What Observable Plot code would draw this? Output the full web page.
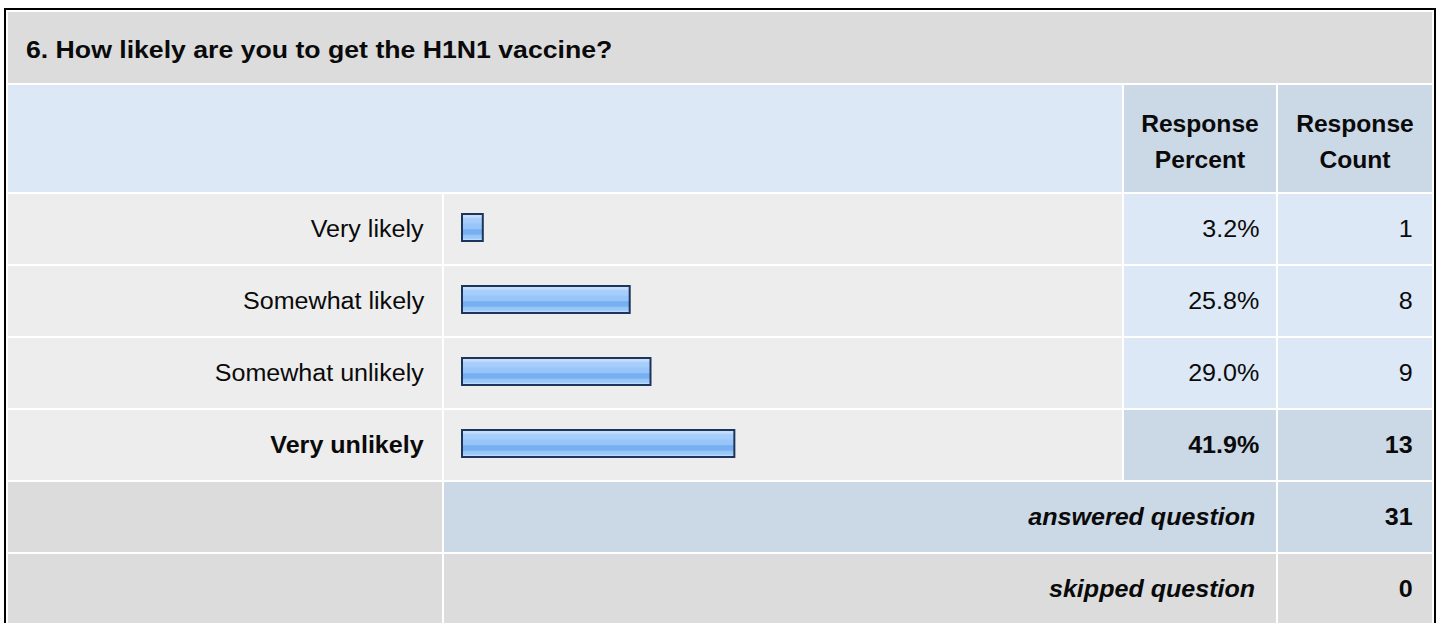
<!DOCTYPE html>
<html>
<head>
<meta charset="utf-8">
<script src="https://cdn.jsdelivr.net/npm/d3@7"></script>
<script src="https://cdn.jsdelivr.net/npm/@observablehq/plot@0.6"></script>
<style>
  html, body { margin: 0; padding: 0; background: #fff; width: 1440px; height: 623px; overflow: hidden; }
  #tbl {
    position: absolute; left: 4px; top: 8px;
    border: 2px solid #000; padding: 2px; background: #fff;
    display: grid;
    grid-template-columns: 434px 678px 152px 154px;
    grid-template-rows: 71px 107px 70px 70px 70px 70px 70px 70px;
    gap: 2px;
    font-family: "Liberation Sans", Arial, sans-serif;
    font-size: 23px; color: #0a0a0a;
  }
  .c { display: flex; align-items: center; box-sizing: border-box; white-space: nowrap; }
  .c span { display: inline-block; transform: scaleX(1.09); }
  .r { justify-content: flex-end; }
  .r span { transform-origin: right center; }
  .b { font-weight: bold; }
  .bi { font-weight: bold; font-style: italic; }
  .hd { justify-content: center; text-align: center; line-height: 36px; font-weight: bold; padding-top: 6px; }
  .hd span { transform-origin: center center; transform: scaleX(1.07); }
  .t { font-size: 24px; }
  .t span { transform-origin: left center; transform: scaleX(1.11); }
  #plotcell svg { display: block; }
</style>
</head>
<body>
<div id="tbl"></div>
<script>
// ---- data ----
const title = "6. How likely are you to get the H1N1 vaccine?";
const columnHeaders = [["Response", "Percent"], ["Response", "Count"]];
const categories = ["Very likely", "Somewhat likely", "Somewhat unlikely", "Very unlikely"];
const percents = [3.2, 25.8, 29.0, 41.9];
const counts = [1, 8, 9, 13];
const summaryLabels = ["answered question", "skipped question"];
const summaryCounts = [31, 0];

// ---- layout ----
const tbl = document.getElementById("tbl");
const GRAY = "#dcdcdc", ROW = "#ededed", LBLUE = "#dce8f5", MBLUE = "#cbd8e6";
function cell(row, col, bg, text, cls, style) {
  const d = document.createElement("div");
  d.className = "c " + (cls || "");
  d.style.gridRow = row;
  d.style.gridColumn = col;
  d.style.background = bg;
  if (style) Object.assign(d.style, style);
  if (text !== undefined && text !== null) {
    const s = document.createElement("span");
    if (Array.isArray(text)) {
      text.forEach((t, i) => { if (i) s.appendChild(document.createElement("br")); s.appendChild(document.createTextNode(t)); });
    } else s.textContent = text;
    d.appendChild(s);
  }
  tbl.appendChild(d);
  return d;
}

cell("1", "1 / 5", GRAY, title, "b t", {paddingLeft: "18px", paddingTop: "5px"});
cell("2", "1 / 3", LBLUE);
cell("2", "3", MBLUE, columnHeaders[0], "hd");
cell("2", "4", MBLUE, columnHeaders[1], "hd");

const maxIdx = percents.indexOf(Math.max(...percents));
categories.forEach((cat, i) => {
  const r = String(3 + i);
  const top = i === maxIdx;
  cell(r, "1", ROW, cat, "r" + (top ? " b" : ""), {paddingRight: "18px"});
  cell(r, "3", top ? MBLUE : LBLUE, percents[i].toFixed(1) + "%", "r" + (top ? " b" : ""), {paddingRight: "17px"});
  cell(r, "4", top ? MBLUE : LBLUE, String(counts[i]), "r" + (top ? " b" : ""), {paddingRight: "19px"});
});

cell("7", "1", GRAY);
cell("7", "2 / 4", MBLUE, summaryLabels[0], "r bi", {paddingRight: "21px"});
cell("7", "4", MBLUE, String(summaryCounts[0]), "r b", {paddingRight: "19px"});
cell("8", "1", GRAY);
cell("8", "2 / 4", GRAY, summaryLabels[1], "r bi", {paddingRight: "21px"});
cell("8", "4", GRAY, String(summaryCounts[1]), "r b", {paddingRight: "19px"});

// ---- bars with Plot ----
const rows = categories.map((c, i) => ({label: c, pct: percents[i]}));
const chart = Plot.plot({
  width: 678, height: 286, margin: 0,
  x: {domain: [0, 100], range: [18, 668], axis: null},
  y: {domain: categories, range: [0, 286], paddingInner: 2 / 72, paddingOuter: 0, axis: null},
  style: {background: "#fff", overflow: "visible"},
  marks: [
    Plot.cell(rows, {y: "label", fill: ROW}),
    Plot.barX(rows, {x: "pct", y: "label", insetTop: 20, insetBottom: 23,
      fill: "url(#barGrad)", stroke: "#1d355a", strokeWidth: 2})
  ]
});
const defs = d3.select(chart).insert("defs", ":first-child");
const g = defs.append("linearGradient").attr("id", "barGrad")
  .attr("x1", 0).attr("y1", 0).attr("x2", 0).attr("y2", 1);
[[0, "#cae0fb"], [0.12, "#c3dcfa"], [0.15, "#a9cffb"], [0.34, "#a5cdfb"], [0.37, "#99c6fa"],
 [0.55, "#97c5f9"], [0.58, "#76aef0"], [0.75, "#78b0f1"], [0.78, "#93c4f9"], [0.9, "#9ccaf9"],
 [0.93, "#bad9fc"], [1, "#bedbfb"]].forEach(([o, c]) => g.append("stop").attr("offset", o).attr("stop-color", c));

const pc = cell("3 / 7", "2", "#fff", null, "", {display: "block"});
pc.id = "plotcell";
pc.appendChild(chart);
</script>
</body>
</html>
